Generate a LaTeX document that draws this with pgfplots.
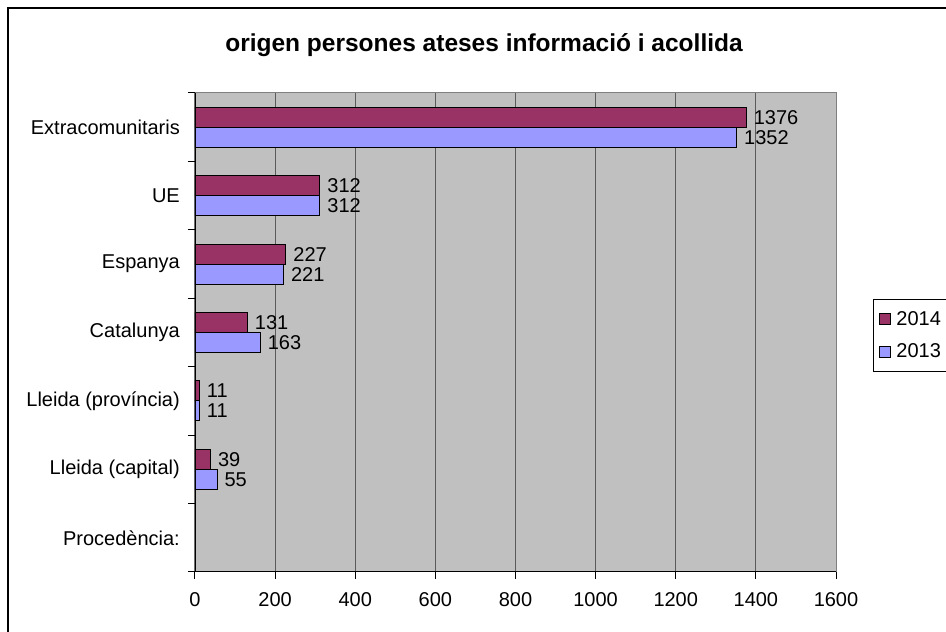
\documentclass[border=0pt]{standalone}
\usepackage{fontspec}
\setmainfont{Liberation Sans}
\usepackage{pgfplots}
\pgfplotsset{compat=1.18}
\definecolor{c2014}{HTML}{993366}
\definecolor{c2013}{HTML}{9999FF}
\definecolor{plotbg}{HTML}{C0C0C0}
\definecolor{gridc}{HTML}{5A5A5A}
\definecolor{borderc}{HTML}{808080}
\begin{document}
\begin{tikzpicture}
\useasboundingbox (0,0) rectangle (946pt,632pt);
\clip (0,0) rectangle (946pt,632pt);
\fill[white] (0,0) rectangle (946pt,632pt);
\draw[line width=2pt] (8pt,624pt) rectangle (960pt,-10pt);
\begin{axis}[
  at={(195pt,60pt)}, anchor=south west,
  scale only axis, width=641pt, height=479pt,
  xbar, bar width=20pt,
  xmin=0, xmax=1600, ymin=-0.5, ymax=6.5,
  xtick={0,200,...,1600},
  ytick={0,1,2,3,4,5,6},
  yticklabels={Procedència:, Lleida (capital), Lleida (província), Catalunya, Espanya, UE, Extracomunitaris},
  /pgf/number format/assume math mode=true,
  /pgf/number format/1000 sep={},
  tick label style={font=\fontsize{20}{24}\selectfont},
  tick align=outside,
  tick pos=left,
  major tick length=7pt,
  xtick style={draw=black, line width=1pt},
  ytick style={draw=none},
  extra y ticks={-0.5,0.5,1.5,2.5,3.5,4.5,5.5,6.5},
  extra y tick labels={},
  extra y tick style={ytick style={draw=black, line width=1pt}, tick pos=left},
  x tick label style={anchor=center, inner sep=0pt, yshift=-21pt},
  y tick label style={anchor=east, inner sep=0pt, xshift=-8pt},
  xmajorgrids,
  major grid style={draw=gridc, line width=1pt},
  axis background/.style={fill=plotbg},
  axis line style={draw=borderc, line width=1pt},
  title={origen persones ateses informació i acollida},
  title style={at={(0.4509,1.0880)}, anchor=center, inner sep=0pt, font=\fontsize{24.5}{29}\selectfont\bfseries},
  nodes near coords,
  every node near coord/.append style={anchor=west, inner sep=3pt, xshift=4pt, font=\fontsize{20}{24}\selectfont, black},
  legend style={at={(1.0577,0.5699)}, anchor=north west, draw=black, line width=1pt, fill=white,
    font=\fontsize{20}{24}\selectfont, row sep=13pt, column sep=3pt, inner xsep=6pt, inner ysep=10pt},
  legend cell align=left,
  legend image code/.code={\draw[#1, line width=1pt] (0pt,-5.5pt) rectangle (11pt,5.5pt);},
]
\addplot[fill=c2014, draw=black, line width=1pt, bar shift=10pt]
  coordinates {(39,1) (11,2) (131,3) (227,4) (312,5) (1376,6)};
\addlegendentry{2014}
\addplot[fill=c2013, draw=black, line width=1pt, bar shift=-10pt]
  coordinates {(55,1) (11,2) (163,3) (221,4) (312,5) (1352,6)};
\addlegendentry{2013}
\draw[black, line width=1.5pt] (rel axis cs:0,1) -- (rel axis cs:0,0) -- (rel axis cs:1,0);
\end{axis}
\end{tikzpicture}
\end{document}
